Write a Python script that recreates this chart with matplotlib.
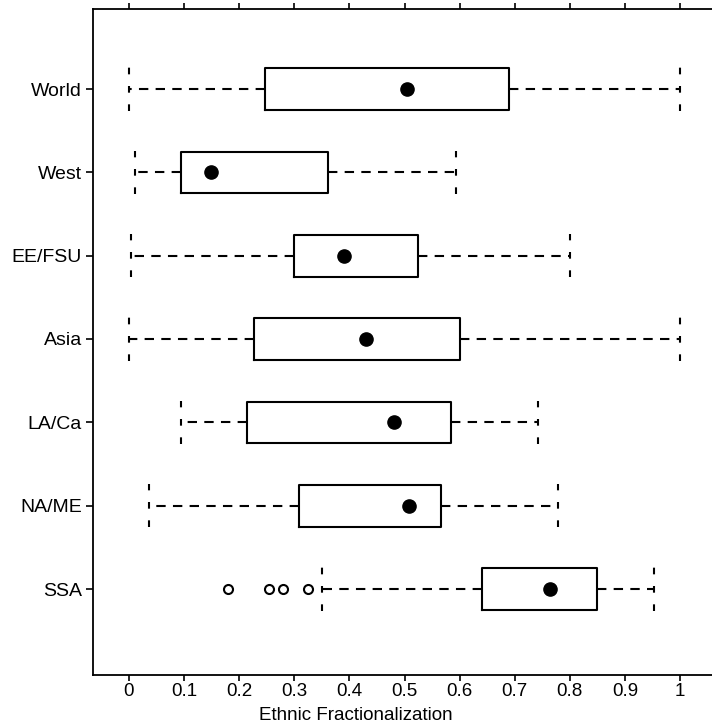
import matplotlib.pyplot as plt

regions = ['World', 'West', 'EE/FSU', 'Asia', 'LA/Ca', 'NA/ME', 'SSA']
whis_lo = [0.0, 0.011, 0.004, 0.0, 0.094, 0.037, 0.35]
q1 = [0.246, 0.094, 0.299, 0.227, 0.214, 0.308, 0.640]
med = [0.504, 0.148, 0.390, 0.430, 0.481, 0.508, 0.764]
q3 = [0.690, 0.362, 0.524, 0.600, 0.584, 0.566, 0.849]
whis_hi = [1.0, 0.594, 0.80, 1.0, 0.742, 0.779, 0.952]
outliers = [[], [], [], [], [], [], [0.18, 0.254, 0.279, 0.324]]
xticks = [0, 0.1, 0.2, 0.3, 0.4, 0.5, 0.6, 0.7, 0.8, 0.9, 1]
xtick_labels = ['0', '0.1', '0.2', '0.3', '0.4', '0.5', '0.6', '0.7', '0.8', '0.9', '1']

plt.rcParams['font.family'] = ['Liberation Sans', 'DejaVu Sans']

fig = plt.figure(figsize=(7.12, 7.25), dpi=100)
ax = fig.add_axes([93 / 712, 50 / 725, 623 / 712, 666 / 725])

pos = list(range(len(regions), 0, -1))
stats = []
for i, name in enumerate(regions):
    stats.append(dict(label=name, med=med[i], q1=q1[i], q3=q3[i],
                      whislo=whis_lo[i], whishi=whis_hi[i], fliers=outliers[i]))

# whiskers dashed, end staples dashed with three short dashes
ax.bxp(stats, positions=pos, orientation='horizontal', widths=0.5,
       capwidths=0.52, patch_artist=False,
       boxprops=dict(color='black', linewidth=1.5),
       whiskerprops=dict(color='black', linewidth=1.5, linestyle=(0, (4.5, 3.5))),
       capprops=dict(color='black', linewidth=1.5, linestyle=(0, (3.2, 5.6))),
       medianprops=dict(linestyle='none'),
       flierprops=dict(marker='o', markersize=6.5, markerfacecolor='white',
                       markeredgecolor='black', markeredgewidth=1.5))
ax.plot(med, pos, 'o', color='black', markersize=9.5, zorder=5)

ax.set_xlim(-0.0653, 1.0653)
ax.set_ylim(-0.032, 7.96)
ax.set_yticks(pos)
ax.set_yticklabels(regions)
ax.set_xticks(xticks)
ax.set_xticklabels(xtick_labels)
ax.tick_params(axis='both', direction='out', length=5, width=1.2,
               labelsize=14, pad=3)
ax.tick_params(axis='x', top=True, length=4.5, pad=1, labelsize=13.5)
for s in ax.spines.values():
    s.set_linewidth(1.3)
ax.set_xlabel('Ethnic Fractionalization', fontsize=13.5)
ax.xaxis.set_label_coords(0.5, 1 / 725, transform=fig.transFigure)
ax.xaxis.label.set_va('bottom')

fig.savefig('out.png', dpi=100)
